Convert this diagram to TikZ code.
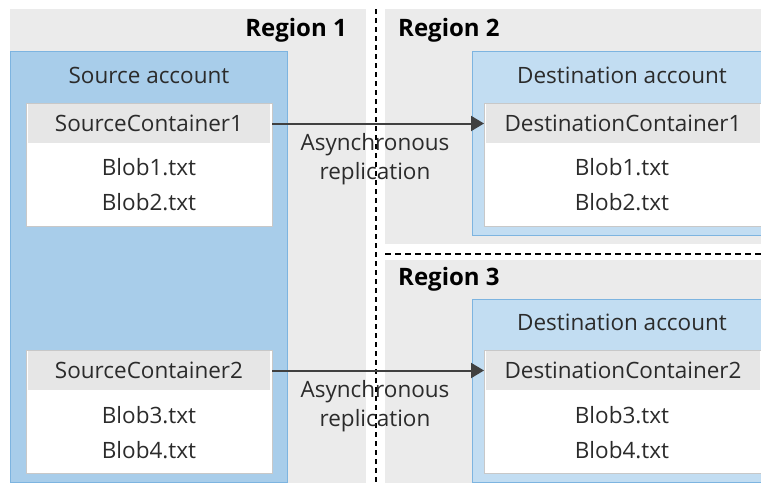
\documentclass[tikz,border=0pt]{standalone}
\usepackage{fontspec}
\setmainfont{Open Sans}
\usetikzlibrary{arrows.meta}
\definecolor{regiongray}{HTML}{EBEBEB}
\definecolor{srcblue}{HTML}{A8CDEA}
\definecolor{srcborder}{HTML}{7DB4E0}
\definecolor{dstblue}{HTML}{C2DDF2}
\definecolor{dstborder}{HTML}{7DB4E0}
\definecolor{hdrgray}{HTML}{E6E6E6}
\definecolor{boxborder}{HTML}{C8C8C8}
\definecolor{txt}{HTML}{2B2B2B}
\definecolor{arrowc}{HTML}{404040}
\tikzset{
  box/.style={anchor=north west, inner sep=0pt, outer sep=0pt},
  regionbg/.style={box, fill=regiongray},
  srcacct/.style={box, fill=srcblue, draw=srcborder, line width=1pt},
  dstacct/.style={box, fill=dstblue, draw=dstborder, line width=1pt},
  cont/.style={box, fill=white, draw=boxborder, line width=1pt, minimum width=246pt, minimum height=123pt},
  hdr/.style={box, fill=hdrgray, minimum height=39pt, text=txt, font=\fontsize{22.5}{27}\selectfont},
  lbl/.style={inner sep=0pt, text=txt, font=\fontsize{22.5}{27}\selectfont},
  rlbl/.style={inner sep=0pt, text=black, font=\fontsize{24}{29}\selectfont\bfseries},
  divider/.style={black, line width=1.5pt, dash pattern=on 5pt off 4pt},
  hdivider/.style={black, line width=1.5pt, dash pattern=on 6pt off 4pt},
  arr/.style={arrowc, line width=2pt, -{Triangle[length=13pt,width=15pt]}},
}
\begin{document}
\begin{tikzpicture}[x=1pt,y=-1pt]
\useasboundingbox (0,0) rectangle (761,483);
% regions
\node[regionbg, minimum width=356pt, minimum height=474pt] (r1) at (10,9) {};
\node[regionbg, minimum width=376pt, minimum height=235pt] (r2) at (385,9) {};
\node[regionbg, minimum width=376pt, minimum height=223pt] (r3) at (385,260) {};
\coordinate (vt) at (376,9);
\coordinate (vb) at (376,483);
\coordinate (hl) at (385,254);
\coordinate (hr) at (761,254);
\draw[divider] (vt) -- (vb);
\draw[hdivider] (hl) -- (hr);
\node[rlbl, anchor=east] (r1l) at (347,30) {Region 1};
\node[rlbl, anchor=west] (r2l) at (398,30) {Region 2};
\node[rlbl, anchor=west] (r3l) at (398,279) {Region 3};
% source account
\node[srcacct, minimum width=277pt, minimum height=431pt] (sa) at (10,51) {};
\node[lbl] (sal) at (149,75) {Source account};
% source containers
\node[cont] (sc1) at (26,103) {};
\node[hdr, minimum width=242pt] (sc1h) at (28,104) {SourceContainer1};
\node[lbl] (b1) at (149,167) {Blob1.txt};
\node[lbl] (b2) at (149,202) {Blob2.txt};
\node[cont] (sc2) at (26,350) {};
\node[hdr, minimum width=242pt] (sc2h) at (28,351) {SourceContainer2};
\node[lbl] (b3) at (149,415) {Blob3.txt};
\node[lbl] (b4) at (149,450) {Blob4.txt};
% destination accounts
\node[dstacct, minimum width=289pt, minimum height=184pt] (da1) at (472,51) {};
\node[lbl] (da1l) at (622,75) {Destination account};
\node[cont, minimum width=277pt] (dc1) at (484,103) {};
\node[hdr, minimum width=274pt] (dc1h) at (486,104) {DestinationContainer1};
\node[lbl] (d1) at (622,167) {Blob1.txt};
\node[lbl] (d2) at (622,202) {Blob2.txt};
\node[dstacct, minimum width=289pt, minimum height=183pt] (da2) at (472,299) {};
\node[lbl] (da2l) at (622,322) {Destination account};
\node[cont, minimum width=277pt] (dc2) at (484,350) {};
\node[hdr, minimum width=274pt] (dc2h) at (486,351) {DestinationContainer2};
\node[lbl] (d3) at (622,415) {Blob3.txt};
\node[lbl] (d4) at (622,450) {Blob4.txt};
% arrows
\draw[arr] (sc1.east |- sc1h.center) -- (dc1.west |- sc1h.center);
\draw[arr] (sc2.east |- sc2h.center) -- (dc2.west |- sc2h.center);
\node[lbl, align=center, font=\fontsize{22.5}{29}\selectfont] (a1) at (375,159) {Asynchronous\\replication};
\node[lbl, align=center, font=\fontsize{22.5}{29}\selectfont] (a2) at (375,406) {Asynchronous\\replication};
\end{tikzpicture}
\end{document}
